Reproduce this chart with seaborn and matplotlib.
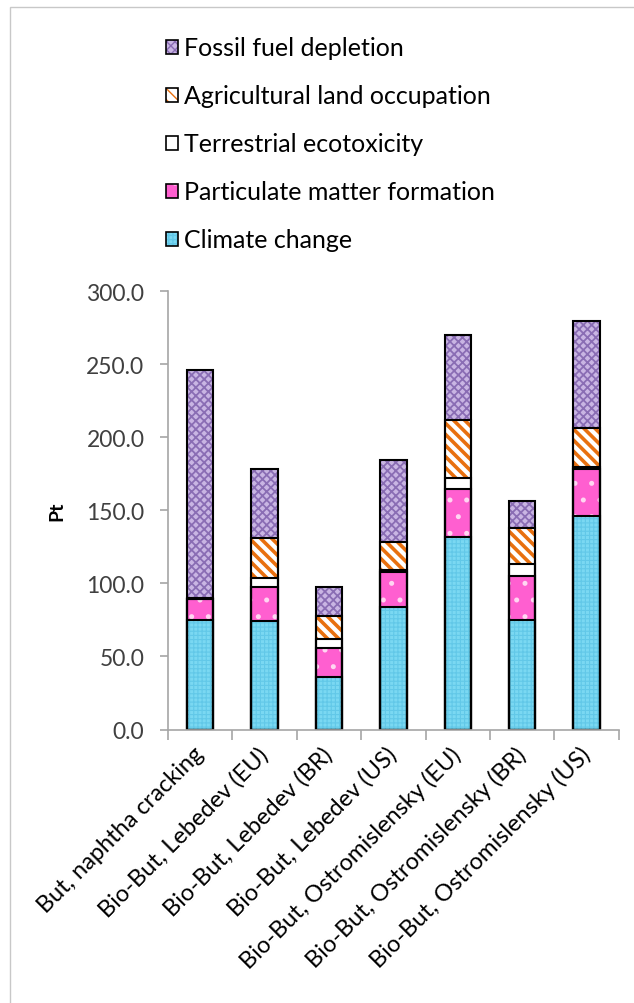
import numpy as np
import pandas as pd
import matplotlib
matplotlib.use("Agg")
import matplotlib.pyplot as plt
from matplotlib.patches import Patch, Rectangle
from matplotlib.legend_handler import HandlerTuple
from matplotlib.ticker import FormatStrFormatter
import seaborn as sns

categories = [
    "But, naphtha cracking",
    "Bio-But, Lebedev (EU)",
    "Bio-But, Lebedev (BR)",
    "Bio-But, Lebedev (US)",
    "Bio-But, Ostromislensky (EU)",
    "Bio-But, Ostromislensky (BR)",
    "Bio-But, Ostromislensky (US)",
]
climate_change = [75, 74, 36, 84, 132, 75, 146]
particulate_matter = [14, 23.5, 20, 23.5, 32.5, 30, 32]
terrestrial_ecotox = [0.4, 6.5, 6, 1.5, 7.5, 8, 1.5]
agricultural_land = [0.4, 27, 16, 19.5, 39.5, 25, 27]
fossil_fuel = [156, 47, 19.5, 56, 58.5, 18.5, 73]

names = [
    "Climate change",
    "Particulate matter formation",
    "Terrestrial ecotoxicity",
    "Agricultural land occupation",
    "Fossil fuel depletion",
]

styles = {
    "Climate change": dict(face="#7ad8f2", hatch="++++", hcolor="#62c8e8", hlw=0.8),
    "Particulate matter formation": dict(face="#ff5fd0", hatch=".", hcolor="#ffd6f2", hlw=1.2),
    "Terrestrial ecotoxicity": dict(face="white", hatch=None, hcolor="white", hlw=1.0),
    "Agricultural land occupation": dict(face="white", hatch="\\\\\\", hcolor="#e8700f", hlw=2.6),
    "Fossil fuel depletion": dict(face="#c9b5e3", hatch="xxxx", hcolor="#8a6db4", hlw=1.3),
}

df = pd.DataFrame(
    {
        "process": categories,
        "Climate change": climate_change,
        "Particulate matter formation": particulate_matter,
        "Terrestrial ecotoxicity": terrestrial_ecotox,
        "Agricultural land occupation": agricultural_land,
        "Fossil fuel depletion": fossil_fuel,
    }
)
cum = df[names].cumsum(axis=1)
cum["process"] = df["process"]

sns.set_theme(style="white")
plt.rcParams["font.family"] = ["Lato", "DejaVu Sans"]

grey = "#a6a6a6"
text_col = "#404040"
bar_w = 0.41

fig = plt.figure(figsize=(6.34, 10.04), dpi=100)
ax = fig.add_axes([0.265, 0.2724, 0.711, 0.4367])

# stacked bars: draw cumulative totals from the top layer down
for name in reversed(names):
    st = styles[name]
    with plt.rc_context({"hatch.linewidth": st["hlw"]}):
        sns.barplot(
            data=cum, x="process", y=name, color=st["face"], saturation=1,
            width=bar_w, edgecolor=st["hcolor"], hatch=st["hatch"], linewidth=0,
            errorbar=None, ax=ax,
        )
for name in reversed(names):
    sns.barplot(
        data=cum, x="process", y=name, color="black", fill=False,
        width=bar_w, linewidth=1.5, errorbar=None, ax=ax,
    )

ax.set_ylim(0, 300)
ax.set_yticks(np.arange(0, 301, 50))
ax.yaxis.set_major_formatter(FormatStrFormatter("%.1f"))
ax.set_xlim(-0.5, len(categories) - 0.5)
ax.set_xlabel("")
ax.set_ylabel("Pt", fontweight="bold", fontsize=14, color="black")
ax.yaxis.set_label_coords(-0.228, 0.5)

for s in ["top", "right"]:
    ax.spines[s].set_visible(False)
for s in ["left", "bottom"]:
    ax.spines[s].set_color(grey)
    ax.spines[s].set_linewidth(1.2)

ax.tick_params(axis="y", left=True, direction="out", length=6, width=1.2,
               color=grey, pad=11, labelsize=16.5, labelcolor=text_col)
ax.set_xticks(np.arange(-0.5, len(categories), 1), minor=True)
ax.tick_params(axis="x", which="minor", bottom=True, direction="out", length=7,
               width=1.2, color=grey)
ax.tick_params(axis="x", which="major", bottom=False, pad=9, labelsize=17,
               labelcolor="black")
plt.setp(ax.get_xticklabels(), rotation=45, ha="right", va="center",
         rotation_mode="anchor")

# legend, top layer first
handles = []
for name in reversed(names):
    st = styles[name]
    p1 = Patch(facecolor=st["face"], edgecolor=st["hcolor"], hatch=st["hatch"], linewidth=0)
    p2 = Patch(facecolor="none", edgecolor="black", linewidth=1.2)
    handles.append((p1, p2))
fig.legend(
    handles, list(reversed(names)), loc="upper left",
    bbox_to_anchor=(143 / 634, 1 - 15 / 1004), frameon=False, fontsize=18,
    handlelength=0.5, handleheight=0.5, handletextpad=0.25, labelspacing=1.0,
    handler_map={tuple: HandlerTuple(ndivide=1, pad=0)}, labelcolor="black",
)

fig.patches.append(
    Rectangle((9.5 / 634, -0.01), 1.0, 1 - 8 / 1004 + 0.01, transform=fig.transFigure,
              fill=False, edgecolor="#c8c8c8", linewidth=1)
)

fig.savefig("out.png", dpi=100)
